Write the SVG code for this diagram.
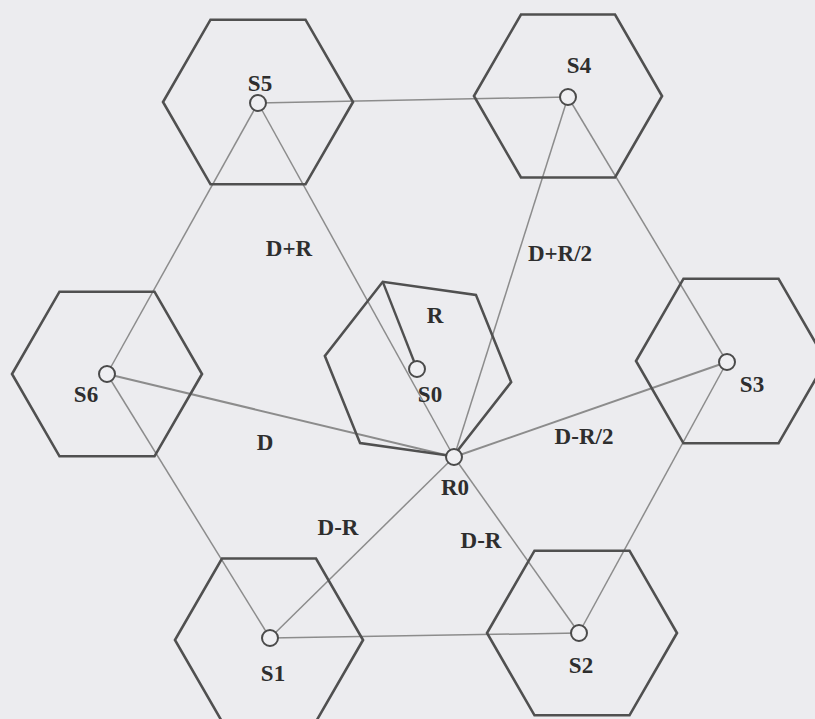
<svg xmlns="http://www.w3.org/2000/svg" xmlns:xlink="http://www.w3.org/1999/xlink" width="815" height="719" viewBox="0 0 815 719">
<style>
.hex{fill:none;stroke:#505050;stroke-width:2.6;stroke-linejoin:miter}
.c{stroke:#8c8c8c;stroke-width:1.5;fill:none}
.cs{stroke:#8c8c8c;stroke-width:2;fill:none}
.node{fill:#efeff2;stroke:#4a4a4a;stroke-width:2}
.lbl{font-family:"Liberation Serif","Times New Roman",serif;font-weight:bold;font-size:23px;fill:#2e2e2e;text-anchor:middle}
</style>
<defs>
<polygon id="hex" points="95,0 47.5,82.3 -47.5,82.3 -95,0 -47.5,-82.3 47.5,-82.3"/>
</defs>
<rect width="815" height="719" fill="#ececef"/>
<g id="connectors">
<line class="c" x1="258" y1="103" x2="568" y2="97"/>
<line class="c" x1="270" y1="638" x2="579" y2="633"/>
<line class="c" x1="258" y1="103" x2="107" y2="374"/>
<line class="c" x1="107" y1="374" x2="270" y2="638"/>
<line class="c" x1="568" y1="97" x2="727" y2="362"/>
<line class="c" x1="727" y1="362" x2="579" y2="633"/>
<line class="c" x1="258" y1="103" x2="454" y2="457"/>
<line class="c" x1="568" y1="97" x2="454" y2="457"/>
<line class="cs" x1="107" y1="374" x2="454" y2="457"/>
<line class="cs" x1="727" y1="362" x2="454" y2="457"/>
<line class="c" x1="270" y1="638" x2="454" y2="457"/>
<line class="c" x1="579" y1="633" x2="454" y2="457"/>
<line stroke="#505050" stroke-width="2.4" x1="382.8" y1="281.9" x2="417" y2="369"/>
</g>
<g id="S5"><use xlink:href="#hex" class="hex" transform="translate(258,102)"/><circle class="node" cx="258" cy="103" r="8"/><text class="lbl" x="260" y="91">S5</text></g>
<g id="S4"><use xlink:href="#hex" class="hex" transform="translate(568,96) scale(0.99)"/><circle class="node" cx="568" cy="97" r="8"/><text class="lbl" x="579" y="73">S4</text></g>
<g id="S6"><use xlink:href="#hex" class="hex" transform="translate(107,374)"/><circle class="node" cx="107" cy="374" r="8"/><text class="lbl" x="86" y="402">S6</text></g>
<g id="S3"><use xlink:href="#hex" class="hex" transform="translate(731,361)"/><circle class="node" cx="727" cy="362" r="8"/><text class="lbl" x="752" y="392">S3</text></g>
<g id="S1"><use xlink:href="#hex" class="hex" transform="translate(269,640) scale(0.99)"/><circle class="node" cx="270" cy="638" r="8"/><text class="lbl" x="273" y="681">S1</text></g>
<g id="S2"><use xlink:href="#hex" class="hex" transform="translate(582,633)"/><circle class="node" cx="579" cy="633" r="8"/><text class="lbl" x="581" y="673">S2</text></g>
<g id="S0"><use xlink:href="#hex" class="hex" transform="translate(418,369) rotate(8) scale(0.99)"/><circle class="node" cx="417" cy="369" r="8"/><text class="lbl" x="430" y="402">S0</text><text class="lbl" x="435" y="323">R</text></g>
<g id="R0"><circle class="node" cx="454" cy="457" r="8"/><text class="lbl" x="455" y="495">R0</text></g>
<g id="labels">
<text class="lbl" x="289" y="256">D+R</text>
<text class="lbl" x="560" y="261">D+R/2</text>
<text class="lbl" x="265" y="450">D</text>
<text class="lbl" x="584" y="444">D-R/2</text>
<text class="lbl" x="338" y="535">D-R</text>
<text class="lbl" x="481" y="548">D-R</text>
</g>
</svg>
